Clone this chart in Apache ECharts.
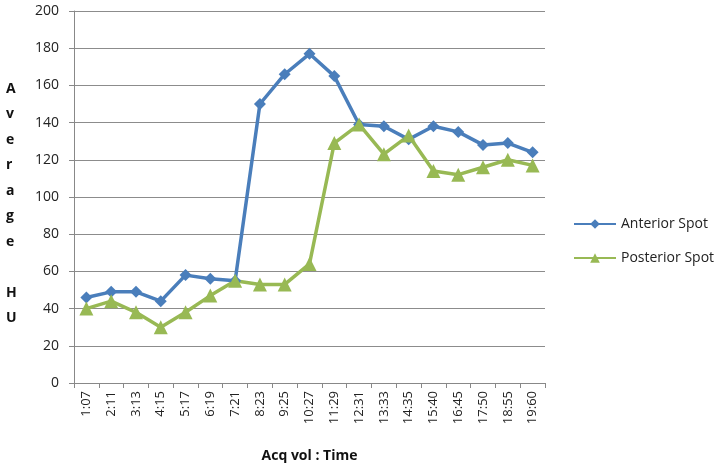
<!DOCTYPE html>
<html><head><meta charset="utf-8">
<script src="https://cdn.jsdelivr.net/npm/echarts@6/dist/echarts.min.js"></script>
<style>html,body{margin:0;padding:0;background:#fff}#c{width:724px;height:468px}</style>
</head><body><div id="c"></div>
<script>
const categories = ['1:07','2:11','3:13','4:15','5:17','6:19','7:21','8:23','9:25','10:27','11:29','12:31','13:33','14:35','15:40','16:45','17:50','18:55','19:60'];
const anterior = [46,49,49,44,58,56,55,150,166,177,165,139,138,131,138,135,128,129,124];
const posterior = [40,44,38,30,38,47,55,53,53,64,129,139,123,133,114,112,116,120,117];
const yTicks = {min:0, max:200, interval:20};

const chart = echarts.init(document.getElementById('c'));
chart.setOption({
  animation:false,
  textStyle:{fontFamily:'"Open Sans", "DejaVu Sans", sans-serif'},
  grid:{left:74,right:179,top:11,bottom:84},
  legend:{
    orient:'vertical', left:568, top:212, itemGap:20, itemWidth:42, itemHeight:12,
    textStyle:{fontSize:14,color:'#222',fontFamily:'"Open Sans", sans-serif'},
    data:['Anterior Spot','Posterior Spot']
  },
  graphic:[{
    type:'text', left:6, top:76,
    style:{text:'A\nv\ne\nr\na\ng\ne\n\nH\nU', font:'bold 14px "Open Sans", sans-serif', lineHeight:25.5, fill:'#111', align:'center', width:14}
  }],
  xAxis:{
    type:'category', data:categories, boundaryGap:true,
    name:'Acq vol : Time', nameLocation:'middle', nameGap:66,
    nameTextStyle:{fontSize:14,fontWeight:'bold',color:'#111'},
    axisLine:{lineStyle:{color:'#888',width:1}},
    axisTick:{show:true,alignWithLabel:false,length:5,lineStyle:{color:'#888'}},
    axisLabel:{rotate:90,color:'#222',fontSize:13,interval:0,margin:8}
  },
  yAxis:{
    type:'value', min:yTicks.min, max:yTicks.max, interval:yTicks.interval,
    axisLine:{show:true,lineStyle:{color:'#888',width:1}},
    axisTick:{show:true,length:5,lineStyle:{color:'#888'}},
    axisLabel:{color:'#222',fontSize:14,margin:15},
    splitLine:{lineStyle:{color:'#8c8c8c',width:1}}
  },
  series:[
    {name:'Anterior Spot', type:'line', data:anterior, symbol:'diamond', symbolSize:12,
     lineStyle:{color:'#4a7ebb',width:3.5}, itemStyle:{color:'#4a7ebb'}},
    {name:'Posterior Spot', type:'line', data:posterior, symbol:'triangle', symbolSize:14,
     lineStyle:{color:'#98b954',width:3.5}, itemStyle:{color:'#98b954'}}
  ]
});
</script></body></html>
